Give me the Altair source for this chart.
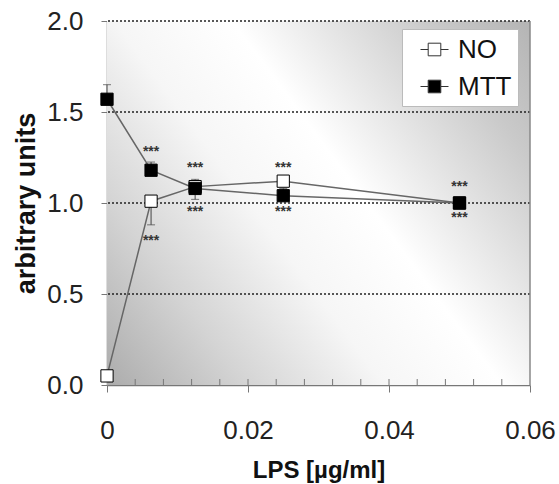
import altair as alt
import pandas as pd

# ---- data ----
lps = [0, 0.00625, 0.0125, 0.025, 0.05]
no_vals = [0.05, 1.01, 1.09, 1.12, 1.00]
mtt_vals = [1.57, 1.18, 1.08, 1.04, 1.00]
no_err = [0.0, -0.13, 0.04, 0.0, 0.0]      # signed one-sided error bars
mtt_err = [0.08, 0.045, -0.06, 0.04, 0.0]
star_x = [0.00625, 0.00625, 0.0125, 0.0125, 0.025, 0.025, 0.05, 0.05]
star_y = [1.28, 0.79, 1.19, 0.95, 1.19, 0.95, 1.09, 0.92]
y_ticks = [0.0, 0.5, 1.0, 1.5, 2.0]
x_ticks = [0, 0.02, 0.04, 0.06]
grid_y = [0.5, 1.0, 1.5, 2.0]
minor_x = [0.004, 0.008, 0.012, 0.016, 0.02, 0.024, 0.028, 0.032, 0.036,
           0.04, 0.044, 0.048, 0.052, 0.056]
series_names = ["NO", "MTT"]

W, H = 423, 364
FONT = "Liberation Sans"

rows = []
for name, vals, errs in [("NO", no_vals, no_err), ("MTT", mtt_vals, mtt_err)]:
    for x, v, e in zip(lps, vals, errs):
        rows.append({"series": name, "lps": x, "val": v, "end": v + e, "err": e})
df = pd.DataFrame(rows)
err_df = df[df["err"] != 0]
grid_df = pd.DataFrame({"val": grid_y})
minor_df = pd.DataFrame({"lps": minor_x})
star_df = pd.DataFrame({"lps": star_x, "val": star_y})
one = pd.DataFrame({"a": [0]})

xscale = alt.Scale(domain=[0, 0.06], nice=False)
yscale = alt.Scale(domain=[0, 2.0], nice=False)

gradient = alt.Gradient(
    gradient="linear",
    x1=0, y1=1, x2=1.164, y2=0.257,
    stops=[
        alt.GradientStop(color="#acacac", offset=0),
        alt.GradientStop(color="#d4d4d4", offset=0.2),
        alt.GradientStop(color="#f6f6f6", offset=0.4),
        alt.GradientStop(color="#ffffff", offset=0.57),
        alt.GradientStop(color="#cacaca", offset=0.85),
        alt.GradientStop(color="#b4b4b4", offset=1),
    ],
)

bg = alt.Chart(one).mark_rect(fill=gradient).encode(
    x=alt.value(0), x2=alt.value(W), y=alt.value(0), y2=alt.value(H)
)

grid = alt.Chart(grid_df).mark_rule(
    color="#222", strokeDash=[2, 2], strokeWidth=1.5
).encode(y=alt.Y("val:Q", scale=yscale))

right_frame = alt.Chart(one).mark_rule(color="#888", strokeWidth=1.5).encode(
    x=alt.value(W), y=alt.value(0), y2=alt.value(H)
)

minor = alt.Chart(minor_df).mark_rule(color="#777", strokeWidth=1).encode(
    x=alt.X("lps:Q", scale=xscale), y=alt.value(H - 6), y2=alt.value(H)
)

lines = alt.Chart(df).mark_line(color="#666", strokeWidth=1.5).encode(
    x=alt.X(
        "lps:Q",
        scale=xscale,
        axis=alt.Axis(
            values=x_ticks,
            labelExpr="datum.value == 0 ? '0' : format(datum.value, '.2f')",
            title="LPS [µg/ml]",
            grid=False,
            tickSize=7,
            labelPadding=25,
            titlePadding=15,
            labelFlush=False,
        ),
    ),
    y=alt.Y(
        "val:Q",
        scale=yscale,
        axis=alt.Axis(
            values=y_ticks,
            format=".1f",
            title="arbitrary units",
            titleFontSize=27,
            grid=False,
            tickSize=6,
            labelPadding=18,
            titlePadding=6,
            labelFlush=False,
        ),
    ),
    detail="series:N",
)

ebars = alt.Chart(err_df).mark_rule(color="#444", strokeWidth=1).encode(
    x="lps:Q", y="val:Q", y2="end:Q"
)
caps = alt.Chart(err_df).mark_tick(
    orient="horizontal", size=8, thickness=1, color="#444"
).encode(x="lps:Q", y="end:Q")

points = alt.Chart(df).mark_point(
    shape="square", filled=True, size=150, stroke="black", strokeWidth=1, opacity=1
).encode(
    x="lps:Q",
    y="val:Q",
    fill=alt.Fill(
        "series:N",
        scale=alt.Scale(domain=series_names, range=["white", "black"]),
        legend=alt.Legend(
            title=None,
            orient="none",
            legendX=295,
            legendY=8,
            fillColor="white",
            strokeColor="#bbb",
            padding=6,
            labelFontSize=26,
            labelFont=FONT,
            labelColor="#111",
            symbolType="M-1,0H-0.45M0.45,0H1M-0.45,-0.45H0.45V0.45H-0.45Z",
            symbolSize=784,
            symbolStrokeColor="#333",
            symbolStrokeWidth=1,
            symbolOffset=12,
            rowPadding=9,
            labelOffset=9,
        ),
    ),
)

stars = alt.Chart(star_df).mark_text(
    text="***", fontSize=14, fontWeight="bold", color="#333",
    baseline="middle", font=FONT
).encode(x="lps:Q", y="val:Q")

chart = (
    alt.layer(bg, grid, right_frame, minor, lines, ebars, caps, points, stars)
    .properties(
        width=W,
        height=H,
        autosize=alt.AutoSizeParams(type="none"),
        padding={"left": 107, "top": 21, "right": 29, "bottom": 99},
    )
    .configure_view(stroke=None)
    .configure_axis(
        labelFont=FONT,
        titleFont=FONT,
        labelFontSize=26,
        titleFontSize=24,
        titleFontWeight="bold",
        labelColor="#222",
        titleColor="#111",
        domainColor="#777",
        domainWidth=1.5,
        tickColor="#777",
        tickWidth=1,
    )
)

chart.save("out.html", embed_options={"renderer": "svg", "actions": False})
